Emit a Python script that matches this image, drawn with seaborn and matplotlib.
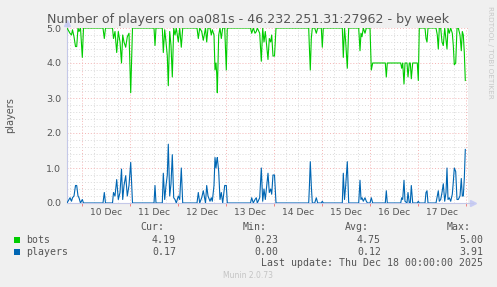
import matplotlib
matplotlib.use("Agg")
import matplotlib.pyplot as plt
import numpy as np
import pandas as pd
import seaborn as sns
from matplotlib.patches import Rectangle

# ---------------- data (hours relative to 10 Dec 00:00) ----------------
hours = [-7.5, -6, -5.25, -4.75, -4, -3.25, -2.65, -2, -1.5, -0.75, 0.15, 0.75,
         10.5, 11.15, 11.75, 15.25, 15.75, 16.5, 17.35, 18.15, 19, 19.75, 20.35,
         21, 21.85, 22.65, 23.5, 24.35, 25.25, 36, 36.5, 37, 40.15, 40.65, 41.35,
         42, 42.65, 43.15, 43.85, 44.5, 45.15, 45.85, 46.5, 47.15, 48.15, 48.85,
         49.65, 50.35, 57.5, 58.15, 58.85, 59.85, 60.65, 61.75, 62.35, 63, 64,
         64.65, 65.15, 66, 66.5, 67, 67.35, 67.65, 68.35, 69, 69.65, 70.35, 71.35,
         72.15, 72.65, 84.25, 84.85, 85.65, 86.5, 87.15, 87.65, 88.85, 89.65,
         90.35, 91, 91.65, 92.35, 93, 93.65, 94.35, 94.85, 95.5, 96.25, 97,
         113.35, 113.65, 114.15, 114.65, 115.15, 116.35, 117.15, 117.85, 119.65,
         120.15, 120.65, 130.15, 130.65, 131.25, 131.85, 132.65, 133.35, 138.35,
         139, 139.5, 140, 140.65, 141.5, 142.15, 142.75, 144, 144.65, 145.35,
         151.65, 152.15, 152.65, 159.35, 159.85, 160.35, 161, 161.5, 162.5, 163,
         163.65, 164.15, 164.65, 165.35, 167.65, 168.15, 168.65, 171.5, 172,
         172.5, 173, 177, 177.65, 178.15, 178.65, 179.35, 180, 180.65, 181.35,
         182, 182.5, 183, 183.65, 184.35, 185.15, 185.65, 186.15, 186.85, 187.5,
         188.15, 189, 189.65, 190.15, 190.65, 191.15, 191.65]

bots = [5, 4.85, 4.8, 4.95, 4.75, 4.47, 4.47, 5, 4.9, 5, 4.16, 5,
        5, 4.7, 5, 5, 4.7, 4.9, 4.3, 4.9, 4.6, 4.0, 4.8,
        4.6, 4.45, 4.75, 4.85, 3.15, 5, 5, 4.5, 5, 5, 4.3, 4.95,
        4.6, 4.2, 3.35, 4.9, 4.5, 3.6, 5, 4.8, 5, 4.6, 5,
        4.45, 5, 5, 4.7, 5, 4.9, 4.65, 5, 4.6, 5, 5,
        4.8, 4.95, 4.8, 3.8, 4.0, 3.7, 3.15, 4.8, 5, 4.7, 5, 5,
        3.8, 5, 5, 4.85, 5, 4.85, 4.9, 5, 4.85, 4.05,
        5, 4.6, 4.9, 4.5, 4.1, 4.7, 4.6, 4.8, 4.2, 4.2, 5,
        5, 4.5, 3.8, 4.7, 5, 5, 4.85, 5, 5,
        4.45, 5, 5, 4.16, 5, 4.6, 3.85, 5, 5,
        4.35, 4.85, 4.75, 5, 4.85, 5, 5, 5, 3.8, 4.0,
        4.0, 3.6, 4.0, 4.0, 3.85, 4.0, 3.4, 4.0, 4.0, 3.6,
        4.0, 4.0, 3.55, 4.0, 4.0, 3.5, 5, 5, 4.7,
        4.6, 5, 5, 4.8, 4.4, 5, 5, 4.6, 4.5, 5,
        4.65, 4.4, 5, 4.85, 5, 4.85, 4.5, 3.95, 4.0, 5,
        5, 4.8, 4.35, 4.9, 4.8, 4.3, 3.5]

players = [0, 0.15, 0.05, 0.15, 0.2, 0.5, 0.5, 0.2, 0.15, 0, 0.1, 0,
           0, 0.3, 0, 0, 0.3, 0.2, 0.67, 0.1, 0.3, 0.97, 0.1,
           0.5, 0.78, 0.2, 0.5, 1.16, 0, 0, 0.5, 0, 0, 0.85, 0.1,
           0.5, 0.8, 1.68, 0.2, 0.55, 1.38, 0.15, 0.1, 0, 0.2, 0.1,
           1.0, 0, 0, 0.3, 0, 0.15, 0.35, 0, 0.5, 0.2, 0.05,
           0.15, 0.05, 0.5, 1.3, 1.0, 1.2, 1.3, 0.9, 0.1, 0.3, 0, 0.5,
           0.5, 0, 0, 0.15, 0, 0.1, 0.15, 0, 0.15, 1.0,
           0.05, 0.4, 0.1, 0.5, 0.85, 0.3, 0.4, 0.25, 0.8, 0.8, 0,
           0, 0.4, 1.18, 0.5, 0, 0, 0.15, 0, 0,
           0.05, 0, 0, 0.85, 0.1, 0.5, 1.18, 0, 0,
           0.65, 0.1, 0.15, 0.05, 0.15, 0.05, 0, 0, 0.15, 0,
           0, 0.35, 0, 0, 0.15, 0.1, 0.65, 0.05, 0, 0.3,
           0, 0, 0.5, 0, 0, 0.05, 0, 0, 0.3,
           0.35, 0, 0, 0.2, 0.35, 0.05, 0.1, 0.3, 0.55, 0.05,
           0.3, 1.0, 0.1, 0.15, 0.05, 0.25, 0.6, 1.0, 0.9, 0.1,
           0.1, 0.2, 0.7, 0.2, 0.2, 0.7, 1.53]

day_labels = ["10 Dec", "11 Dec", "12 Dec", "13 Dec", "14 Dec", "15 Dec", "16 Dec", "17 Dec"]
y_tick_labels = ["0.0", "1.0", "2.0", "3.0", "4.0", "5.0"]
series_names = ["bots", "players"]
series_colors = ["#00CC00", "#0066B3"]
col_headers = ["Cur:", "Min:", "Avg:", "Max:"]
cur_vals = ["4.19", "0.17"]
min_vals = ["0.23", "0.00"]
avg_vals = ["4.75", "0.12"]
max_vals = ["5.00", "3.91"]
title_text = "Number of players on oa081s - 46.232.251.31:27962 - by week"
last_update = "Last update: Thu Dec 18 00:00:00 2025"
footer = "Munin 2.0.73"
side_text = "RRDTOOL / TOBI OETIKER"
y_label = "players"

# ---------------- figure ----------------
W, H = 497, 287
BG = "#F0F0F0"
fig = plt.figure(figsize=(W / 100, H / 100), dpi=100, facecolor=BG)

def fx(px):
    return px / W

def fy(py):
    return 1 - py / H

L, R, T, B = 67, 468, 28, 203
ax = fig.add_axes([fx(L), fy(B), (R - L) / W, (B - T) / H])
ax.set_facecolor("white")

df = pd.DataFrame({
    "hour": hours * 2,
    "value": bots + players,
    "series": ["bots"] * len(bots) + ["players"] * len(players),
})
sns.lineplot(data=df, x="hour", y="value", hue="series", hue_order=series_names,
             palette=series_colors, estimator=None, sort=False, linewidth=0.8,
             legend=False, ax=ax, zorder=5)

x0 = (L - 82) / 2
x1 = (R - 82) / 2
ax.set_xlim(x0, x1)
ax.set_ylim(0, 5)
ax.set_xlabel("")
ax.set_ylabel("")

midnights = np.arange(0, 193, 24)
six_h = np.arange(-6, 193, 6)
noons = np.arange(12, 12 + 24 * len(day_labels), 24)

red = "#F4B4B4"
grey = "#DADADA"
ax.set_xticks(midnights)
ax.set_xticklabels([""] * len(midnights))
ax.set_xticks(six_h, minor=True)
ax.set_yticks(np.arange(0, 6, 1))
ax.set_yticklabels(y_tick_labels)
ax.set_yticks(np.arange(0, 5.01, 0.2), minor=True)
ax.grid(True, which="major", color=red, linestyle=(0, (1, 2)), linewidth=0.7)
ax.grid(True, which="minor", color=grey, linestyle=(0, (1, 2)), linewidth=0.7)
ax.set_axisbelow(True)
ax.tick_params(axis="x", which="major", length=2.5, width=0.7, color="#F08080", direction="out")
ax.tick_params(axis="x", which="minor", length=0)
ax.tick_params(axis="y", which="both", length=0, pad=4.3, labelsize=6.8, labelcolor="#555555")

sec = ax.secondary_xaxis("bottom")
sec.set_xticks(noons)
sec.set_xticklabels(day_labels)
sec.tick_params(length=0, pad=3.5, labelsize=6.6, labelcolor="#555555")
sec.spines["bottom"].set_visible(False)

for s in ax.spines.values():
    s.set_visible(False)
axis_col = "#C4C8E8"
ax.plot([0, 1.012], [0, 0], transform=ax.transAxes, color=axis_col, lw=0.8, clip_on=False, zorder=4)
ax.plot([0, 0], [0, 1.03], transform=ax.transAxes, color=axis_col, lw=0.8, clip_on=False, zorder=4)
ax.plot([1.012], [0], marker=">", markersize=4, color="#C8CCF4", transform=ax.transAxes, clip_on=False)
ax.plot([0], [1.03], marker="^", markersize=4, color="#C8CCF4", transform=ax.transAxes, clip_on=False)

# title (fit to width)
title = fig.text(fx(248.5), fy(19), title_text, ha="center", va="center", fontsize=8.5, color="#555555")
fig.canvas.draw()
w = title.get_window_extent().width
title.set_fontsize(8.5 * 401 / w)

fig.text(fx(10), fy(115.5), y_label, rotation=90, ha="center", va="center", fontsize=7, color="#555555")
fig.text(fx(490), fy(6), side_text, rotation=270, ha="center", va="top", fontsize=5.2, color="#C8C8C8")

mono = "DejaVu Sans Mono"
fsz = 7.15
tc = "#555555"
for i, (name, col) in enumerate(zip(series_names, series_colors)):
    yc = 240 + i * 11.8
    fig.add_artist(Rectangle((fx(14), fy(yc + 3)), 6 / W, 6 / H, transform=fig.transFigure,
                             facecolor=col, edgecolor="none"))
    fig.text(fx(26), fy(yc), name, ha="left", va="center", family=mono, fontsize=fsz, color=tc)
    for xr, vals in zip([176, 278.5, 381, 483], [cur_vals, min_vals, avg_vals, max_vals]):
        fig.text(fx(xr), fy(yc), vals[i], ha="right", va="center", family=mono, fontsize=fsz, color=tc)
for xr, hdr in zip([164, 266.5, 369, 471], col_headers):
    fig.text(fx(xr), fy(227.5), hdr, ha="right", va="center", family=mono, fontsize=fsz, color=tc)
fig.text(fx(483), fy(263.5), last_update, ha="right", va="center", family=mono, fontsize=fsz, color=tc)
fig.text(fx(248), fy(276), footer, ha="center", va="center", fontsize=5.5, color="#C4C4C4")

fig.savefig("out.png", dpi=100, facecolor=BG)
